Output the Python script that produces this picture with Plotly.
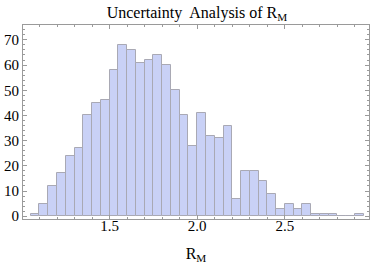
import plotly.graph_objects as go

bin_starts = [1.05, 1.10, 1.15, 1.20, 1.25, 1.30, 1.35, 1.40, 1.45, 1.50,
              1.55, 1.60, 1.65, 1.70, 1.75, 1.80, 1.85, 1.90, 1.95, 2.00,
              2.05, 2.10, 2.15, 2.20, 2.25, 2.30, 2.35, 2.40, 2.45, 2.50,
              2.55, 2.60, 2.65, 2.70, 2.75, 2.80, 2.85, 2.90]
counts = [1, 5, 12, 17, 24, 27, 40, 45, 46, 58,
          68, 66, 61, 62, 64, 60, 50, 40, 28, 41,
          32, 31, 36, 7, 18, 18, 14, 9, 3, 5,
          3, 5, 1, 1, 1, 0, 0, 1]
bin_width = 0.05
x_tick_vals = [1.5, 2.0, 2.5]
x_tick_text = ["1.5", "2.0", "2.5"]
y_tick_vals = [0, 10, 20, 30, 40, 50, 60, 70]

centers = [b + bin_width / 2 for b in bin_starts]

fig = go.Figure(go.Bar(
    x=centers, y=counts, width=bin_width,
    marker=dict(color="#c9d1f6", line=dict(color="#a9a9b4", width=1)),
))

font = "Liberation Serif, Times New Roman, serif"
fig.update_layout(
    width=373, height=265,
    margin=dict(l=23, r=4, t=25, b=46),
    paper_bgcolor="white", plot_bgcolor="white",
    showlegend=False, bargap=0,
    font=dict(family=font, size=15, color="black"),
    title=dict(text="Uncertainty  Analysis of R<sub>M</sub>", x=0.528, xanchor="center",
               y=0.955, yanchor="middle", font=dict(family=font, size=16)),
)
axis_common = dict(showline=True, linecolor="#9a9a9a", linewidth=1, mirror="ticks",
                   ticks="inside", tickcolor="#9a9a9a", showgrid=False, zeroline=False,
                   automargin=False)
fig.update_xaxes(range=[1.006, 2.98], tickvals=x_tick_vals, ticktext=x_tick_text, ticklen=4,
                 ticklabelstandoff=-7,
                 minor=dict(dtick=0.1, tick0=1.0, ticks="inside", ticklen=2, tickcolor="#9a9a9a"),
                 title=dict(text="R<sub>M</sub>", font=dict(family=font, size=16), standoff=14),
                 tickfont=dict(family=font, size=15), **axis_common)
fig.update_yaxes(range=[-1.1, 75.9], tickvals=y_tick_vals, ticklen=4,
                 minor=dict(dtick=2, tick0=0, ticks="inside", ticklen=2, tickcolor="#9a9a9a"),
                 tickfont=dict(family=font, size=15), **axis_common)

fig.write_html("out.html", config={"displayModeBar": False},
               post_script="document.body.style.margin='0px';")
